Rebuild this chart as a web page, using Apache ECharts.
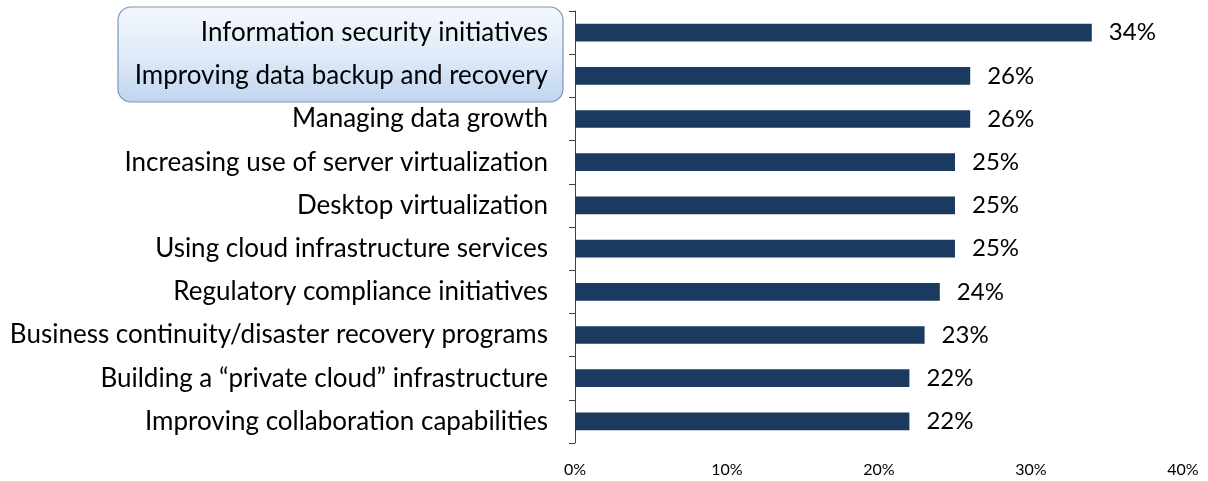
<!DOCTYPE html>
<html>
<head>
<meta charset="utf-8">
<script src="https://cdn.jsdelivr.net/npm/echarts@6/dist/echarts.min.js"></script>
<style>
html,body{margin:0;padding:0;background:#fff;}
#chart{width:1208px;height:481px;}
</style>
</head>
<body>
<div id="chart"></div>
<script>
const categories = [
  "Information security initiatives",
  "Improving data backup and recovery",
  "Managing data growth",
  "Increasing use of server virtualization",
  "Desktop virtualization",
  "Using cloud infrastructure services",
  "Regulatory compliance initiatives",
  "Business continuity/disaster recovery programs",
  "Building a \u201cprivate cloud\u201d infrastructure",
  "Improving collaboration capabilities"
];
const values = [34, 26, 26, 25, 25, 25, 24, 23, 22, 22];
const xTicks = [0, 10, 20, 30, 40];

const chart = echarts.init(document.getElementById('chart'), null, {renderer: 'canvas'});
const FONT = 'Lato';
chart.setOption({
  animation: false,
  grid: {left: 575, right: 25, top: 11, bottom: 38, containLabel: false},
  graphic: [{
    type: 'rect',
    z: -10,
    shape: {x: 118, y: 7, width: 445, height: 95, r: 13},
    style: {
      fill: new echarts.graphic.LinearGradient(0, 0, 0, 1, [
        {offset: 0, color: '#f4f8fd'},
        {offset: 0.5, color: '#e0ebf8'},
        {offset: 1, color: '#bfd5f0'}
      ]),
      stroke: '#7d94b5',
      lineWidth: 1.2
    }
  }],
  xAxis: {
    type: 'value',
    min: xTicks[0],
    max: xTicks[xTicks.length - 1],
    interval: 10,
    axisLine: {show: false},
    axisTick: {show: false},
    splitLine: {show: false},
    axisLabel: {
      formatter: v => v + '%',
      color: '#000',
      fontFamily: FONT,
      fontSize: 16,
      margin: 19
    }
  },
  yAxis: {
    type: 'category',
    data: categories,
    inverse: true,
    axisLine: {show: true, lineStyle: {color: '#404040', width: 1}},
    axisTick: {show: true, length: 6, lineStyle: {color: '#404040'}},
    axisLabel: {
      color: '#000',
      fontFamily: FONT,
      fontSize: 26,
      margin: 27
    }
  },
  series: [{
    type: 'bar',
    data: values,
    barCategoryGap: '59%',
    itemStyle: {color: '#1b3a5f'},
    label: {
      show: true,
      position: 'right',
      distance: 17,
      formatter: p => p.value + '%',
      color: '#000',
      fontFamily: FONT,
      fontSize: 24
    }
  }]
});
</script>
</body>
</html>
